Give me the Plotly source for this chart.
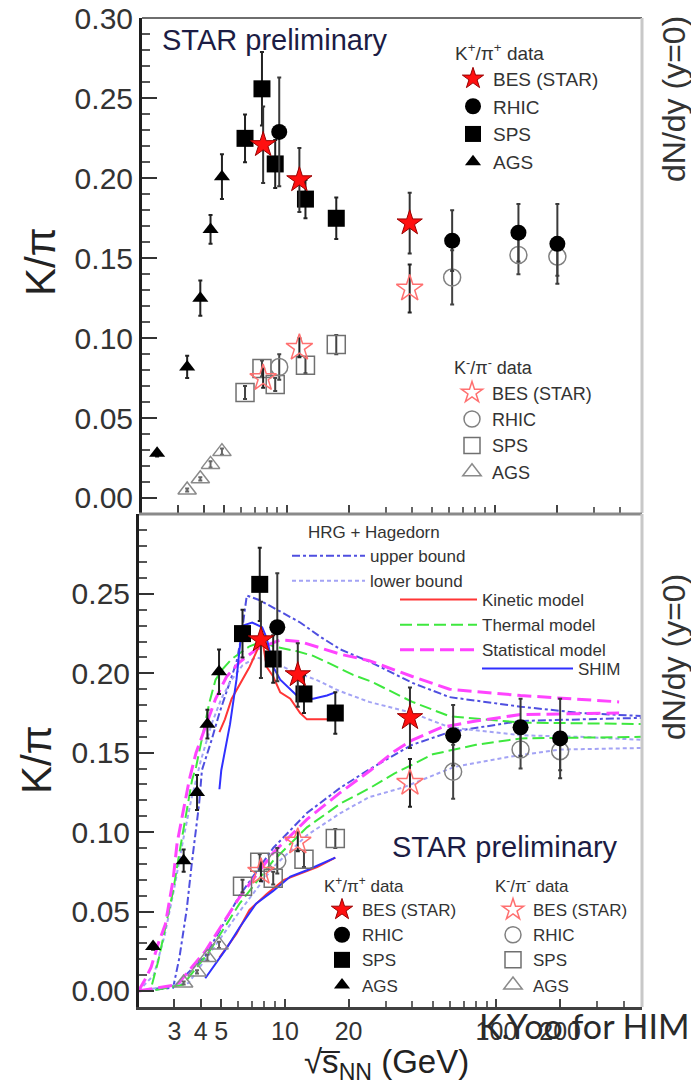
import plotly.graph_objects as go

# ---------------- measured K/pi ratios at mid-rapidity ----------------
bes_e = [7.7, 11.5, 39.0]
bes_kp = [0.221, 0.199, 0.172]
bes_kp_err = [0.024, 0.020, 0.019]
bes_km = [0.075, 0.094, 0.131]
bes_km_err = [0.006, 0.006, 0.015]

rhic_e = [9.2, 62.4, 130.0, 200.0]
rhic_kp = [0.229, 0.161, 0.166, 0.159]
rhic_kp_err = [0.034, 0.019, 0.018, 0.025]
rhic_km = [0.082, 0.138, 0.152, 0.151]
rhic_km_err = [0.008, 0.017, 0.012, 0.012]

sps_e = [6.3, 7.6, 8.8, 12.3, 17.3]
sps_kp = [0.225, 0.256, 0.209, 0.187, 0.175]
sps_kp_err = [0.015, 0.023, 0.015, 0.012, 0.013]
sps_km = [0.066, 0.081, 0.071, 0.083, 0.096]
sps_km_err = [0.004, 0.005, 0.004, 0.005, 0.006]

ags_e = [2.38, 3.32, 3.84, 4.3, 4.88]
ags_kp = [0.028, 0.082, 0.125, 0.168, 0.201]
ags_kp_err = [0.002, 0.007, 0.011, 0.009, 0.014]
ags_km_e = [3.32, 3.84, 4.3, 4.88]
ags_km = [0.005, 0.012, 0.021, 0.029]
ags_km_err = [0.001, 0.001, 0.002, 0.002]

# ---------------- model curves ----------------
kin_kp_e = [4.9, 5.2, 5.6, 6.3, 6.8, 7.3, 7.8, 8.2, 8.8, 9.5, 10.6, 11.8, 12.7, 17.3]
kin_kp = [0.163, 0.171, 0.184, 0.196, 0.204, 0.213, 0.222, 0.204, 0.198, 0.188, 0.184, 0.175, 0.171, 0.171]
kin_km_e = [4.9, 5.9, 6.8, 8.2, 9.9, 11.8, 14.2, 17.3]
kin_km = [0.021, 0.036, 0.051, 0.061, 0.070, 0.074, 0.078, 0.084]

shm_kp_e = [4.9, 5.0, 5.5, 5.9, 6.1, 6.3, 7.0, 7.8, 8.2, 8.8, 9.5, 10.2, 11.8, 13.6, 15.8, 17.3]
shm_kp = [0.127, 0.139, 0.168, 0.196, 0.215, 0.230, 0.232, 0.229, 0.222, 0.204, 0.196, 0.192, 0.184, 0.184, 0.186, 0.188]
shm_km_e = [4.2, 5.3, 6.1, 7.3, 8.8, 10.6, 12.7, 17.3]
shm_km = [0.008, 0.027, 0.040, 0.055, 0.063, 0.072, 0.076, 0.084]

stat_kp_e = [2.03, 2.2, 2.33, 2.52, 2.72, 2.96, 3.09, 3.3, 3.53, 3.8, 4.2, 4.7, 5.3, 6.1, 7.3, 9.5,
             11.8, 14.7, 18.3, 25.0, 40.0, 60.0, 130.0, 380.0]
stat_kp = [0.0, 0.008, 0.015, 0.030, 0.042, 0.070, 0.093, 0.112, 0.133, 0.150, 0.166, 0.184, 0.198,
           0.207, 0.215, 0.221, 0.220, 0.216, 0.212, 0.208, 0.198, 0.190, 0.186, 0.182]
stat_km_e = [2.03, 3.1, 4.2, 6.1, 8.8, 12.7, 18.3, 25.4, 33.0, 40.0, 55.0, 80.0, 130.0, 380.0]
stat_km = [0.0, 0.004, 0.025, 0.059, 0.087, 0.108, 0.125, 0.139, 0.151, 0.158, 0.166, 0.170, 0.174, 0.175]

therm_kp_e = [2.03, 2.2, 2.33, 2.52, 2.72, 2.96, 3.17, 3.43, 3.64, 3.8, 4.05, 4.4, 4.7, 5.1, 5.6, 6.8,
              7.8, 8.8, 11.3, 13.6, 15.8, 21.0, 25.4, 40.0, 60.0, 130.0, 500.0]
therm_kp = [0.0, 0.0, 0.002, 0.019, 0.040, 0.063, 0.087, 0.112, 0.133, 0.141, 0.158, 0.182, 0.196,
            0.203, 0.209, 0.217, 0.220, 0.217, 0.214, 0.211, 0.207, 0.199, 0.195, 0.182, 0.173, 0.169, 0.168]
therm_km_e = [2.03, 2.3, 3.3, 4.4, 6.1, 8.8, 12.7, 18.3, 25.4, 33.0, 50.0, 80.0, 130.0, 500.0]
therm_km = [0.0, 0.0, 0.004, 0.025, 0.055, 0.082, 0.103, 0.118, 0.128, 0.137, 0.149, 0.155, 0.159, 0.160]

hrgu_kp_e = [2.03, 2.96, 3.17, 3.43, 3.64, 3.93, 4.05, 4.5, 4.9, 5.4, 5.9, 6.2, 6.6, 7.6, 9.5, 11.8,
             14.7, 18.3, 25.4, 40.0, 60.0, 130.0, 250.0, 500.0]
hrgu_kp = [0.0, 0.002, 0.021, 0.051, 0.082, 0.118, 0.139, 0.158, 0.175, 0.192, 0.207, 0.222, 0.249,
           0.246, 0.239, 0.232, 0.223, 0.215, 0.207, 0.194, 0.185, 0.179, 0.175, 0.173]
hrgu_km_e = [2.03, 3.0, 4.2, 6.1, 8.8, 12.7, 18.3, 25.4, 40.0, 60.0, 130.0, 500.0]
hrgu_km = [0.0, 0.003, 0.022, 0.060, 0.090, 0.112, 0.128, 0.140, 0.155, 0.163, 0.170, 0.172]

hrgl_kp_e = [2.03, 2.4, 2.7, 3.0, 3.3, 3.6, 4.0, 4.5, 5.0, 5.6, 6.3, 7.3, 8.5, 11.0, 14.0, 18.0,
             25.0, 40.0, 60.0, 130.0, 250.0, 500.0]
hrgl_kp = [0.0, 0.010, 0.035, 0.065, 0.095, 0.120, 0.145, 0.168, 0.184, 0.196, 0.205, 0.210, 0.208,
           0.201, 0.196, 0.189, 0.182, 0.175, 0.166, 0.161, 0.160, 0.158]
hrgl_km_e = [2.03, 3.5, 6.1, 8.8, 12.7, 18.3, 25.0, 36.0, 63.0, 110.0, 200.0, 500.0]
hrgl_km = [0.0, 0.005, 0.050, 0.078, 0.098, 0.112, 0.122, 0.128, 0.141, 0.147, 0.152, 0.153]

# ---------------- axis ticks ----------------
x_major = [3, 4, 5, 10, 20, 100, 200]
x_major_text = ["3", "4", "5", "10", "20", "100", "200"]
x_minor = [6, 7, 8, 9, 30, 40, 50, 60, 70, 80, 90, 300, 400]
y_top_ticks = [0.0, 0.05, 0.10, 0.15, 0.20, 0.25, 0.30]
y_bot_ticks = [0.0, 0.05, 0.10, 0.15, 0.20, 0.25]

W, H = 691, 1087
FONT = "Liberation Sans, Arial, sans-serif"

fig = go.Figure()

# model curves (lower panel)
curve_styles = [
    (hrgu_kp_e, hrgu_kp, hrgu_km_e, hrgu_km, "upper bound", "legend3", dict(color="#4f4fe0", width=2, dash="8px,3px,3px,3px")),
    (hrgl_kp_e, hrgl_kp, hrgl_km_e, hrgl_km, "lower bound", "legend3", dict(color="#a3a3f5", width=2, dash="4px,3px")),
    (therm_kp_e, therm_kp, therm_km_e, therm_km, "Thermal model", "legend4", dict(color="#3ee83e", width=2, dash="12px,5px")),
    (stat_kp_e, stat_kp, stat_km_e, stat_km, "Statistical model", "legend4", dict(color="#ff44ff", width=3, dash="14px,6px")),
    (kin_kp_e, kin_kp, kin_km_e, kin_km, "Kinetic model", "legend4", dict(color="#ff3535", width=2)),
    (shm_kp_e, shm_kp, shm_km_e, shm_km, "SHIM", "legend5", dict(color="#3030ff", width=2)),
]
ranks = {"upper bound": 1, "lower bound": 2, "Kinetic model": 1, "Thermal model": 2,
         "Statistical model": 3, "SHIM": 1}
for xe, yp, xm, ym, name, leg, line in curve_styles:
    fig.add_trace(go.Scatter(x=xe, y=yp, mode="lines", line=line, name=name, legend=leg,
                             legendrank=ranks[name], xaxis="x2", yaxis="y2"))
    fig.add_trace(go.Scatter(x=xm, y=ym, mode="lines", line=line, name=name, showlegend=False,
                             xaxis="x2", yaxis="y2"))


def err(arr, color="#222"):
    return dict(type="data", array=arr, color=color, thickness=2, width=2)


def add_data(xa, ya, leg_p, leg_m):
    # negative kaons (open symbols)
    fig.add_trace(go.Scatter(x=ags_km_e, y=ags_km, error_y=err(ags_km_err, "#666"), mode="markers",
                             marker=dict(symbol="triangle-up-open", size=16, color="#8a8a8a", line=dict(width=1.5)),
                             name="AGS", legend=leg_m, legendrank=4, xaxis=xa, yaxis=ya))
    fig.add_trace(go.Scatter(x=sps_e, y=sps_km, error_y=err(sps_km_err, "#444"), mode="markers",
                             marker=dict(symbol="square-open", size=18, color="#707070", line=dict(width=1.5)),
                             name="SPS", legend=leg_m, legendrank=3, xaxis=xa, yaxis=ya))
    fig.add_trace(go.Scatter(x=rhic_e, y=rhic_km, error_y=err(rhic_km_err, "#444"), mode="markers",
                             marker=dict(symbol="circle-open", size=17, color="#808080", line=dict(width=1.5)),
                             name="RHIC", legend=leg_m, legendrank=2, xaxis=xa, yaxis=ya))
    fig.add_trace(go.Scatter(x=bes_e, y=bes_km, error_y=err(bes_km_err), mode="markers",
                             marker=dict(symbol="star-open", size=20, color="#ff7070", line=dict(width=1.5)),
                             name="BES (STAR)", legend=leg_m, legendrank=1, xaxis=xa, yaxis=ya))
    # positive kaons (filled symbols)
    fig.add_trace(go.Scatter(x=ags_e, y=ags_kp, error_y=err(ags_kp_err), mode="markers",
                             marker=dict(symbol="triangle-up", size=14, color="black"),
                             name="AGS", legend=leg_p, legendrank=4, xaxis=xa, yaxis=ya))
    fig.add_trace(go.Scatter(x=sps_e, y=sps_kp, error_y=err(sps_kp_err), mode="markers",
                             marker=dict(symbol="square", size=17, color="black"),
                             name="SPS", legend=leg_p, legendrank=3, xaxis=xa, yaxis=ya))
    fig.add_trace(go.Scatter(x=rhic_e, y=rhic_kp, error_y=err(rhic_kp_err, "#3a3a3a"), mode="markers",
                             marker=dict(symbol="circle", size=16, color="black"),
                             name="RHIC", legend=leg_p, legendrank=2, xaxis=xa, yaxis=ya))
    fig.add_trace(go.Scatter(x=bes_e, y=bes_kp, error_y=err(bes_kp_err, "#333"), mode="markers",
                             marker=dict(symbol="star", size=19, color="#ff1010", line=dict(color="#990000", width=1)),
                             name="BES (STAR)", legend=leg_p, legendrank=1, xaxis=xa, yaxis=ya))


add_data("x", "y", "legend", "legend2")
add_data("x2", "y2", "legend6", "legend7")

x_common = dict(type="log", showgrid=False, zeroline=False, ticks="inside", tickcolor="#444",
                tickwidth=2, ticklen=8, tickmode="array", tickvals=x_major, ticktext=x_major_text,
                minor=dict(ticks="inside", tickmode="array", tickvals=x_minor, ticklen=6,
                           tickcolor="#666", tickwidth=2, showgrid=False))
y_common = dict(showgrid=False, zeroline=False, ticks="inside", tickcolor="#333", tickwidth=2,
                ticklen=15, tickmode="array", tickformat=".2f",
                tickfont=dict(size=30, color="#333", family=FONT),
                minor=dict(ticks="inside", dtick=0.01, ticklen=8, tickcolor="#555", tickwidth=2,
                           showgrid=False),
                showline=True, linecolor="#1e1e1e", linewidth=3)

fig.update_layout(
    width=W, height=H, autosize=False,
    margin=dict(l=0, r=0, t=0, b=0, autoexpand=False),
    paper_bgcolor="white", plot_bgcolor="white",
    font=dict(family=FONT, color="#333"),
    xaxis=dict(**x_common, domain=[142 / W, 642 / W], range=[0.304, 2.708], anchor="y",
               showticklabels=False, showline=True, linecolor="#9a9a9a", linewidth=2),
    yaxis=dict(**y_common, domain=[1 - 513 / H, 1 - 18 / H], range=[-0.0094, 0.3003],
               tickvals=y_top_ticks, anchor="x"),
    xaxis2=dict(**x_common, domain=[139 / W, 642 / W], range=[0.310, 2.688], anchor="y2",
                showticklabels=True, tickfont=dict(size=25, color="#333", family=FONT),
                showline=True, linecolor="#404040", linewidth=3),
    yaxis2=dict(**y_common, domain=[1 - 1007 / H, 1 - 514 / H], range=[-0.0101, 0.3003],
                tickvals=y_bot_ticks, anchor="x2"),
    shapes=[
        dict(type="line", xref="x domain", yref="y domain", x0=0, x1=1, y0=1, y1=1,
             line=dict(color="#6e6e6e", width=2)),
        dict(type="line", xref="x domain", yref="y domain", x0=1, x1=1, y0=0, y1=1,
             line=dict(color="#c8c8c8", width=3)),
        dict(type="line", xref="x2 domain", yref="y2 domain", x0=0, x1=1, y0=1, y1=1,
             line=dict(color="#8a8a8a", width=3)),
        dict(type="line", xref="x2 domain", yref="y2 domain", x0=1, x1=1, y0=0, y1=1,
             line=dict(color="#c8c8c8", width=3)),
    ],
)

leg_base = dict(bgcolor="rgba(0,0,0,0)", borderwidth=0, xanchor="left", yanchor="top",
                traceorder="normal", tracegroupgap=0)
kp_title = "K<sup>+</sup>/π<sup>+</sup> data"
km_title = "K<sup>-</sup>/π<sup>-</sup> data"
fig.update_layout(
    legend=dict(**leg_base, x=453 / W, y=1 - 35 / H, font=dict(size=19, color="#333"),
                title=dict(text=kp_title, font=dict(size=19, color="#333"))),
    legend2=dict(**leg_base, x=452 / W, y=1 - 351 / H, font=dict(size=18, color="#333"),
                 title=dict(text=km_title, font=dict(size=18, color="#333"))),
    legend3=dict(**leg_base, x=287 / W, y=1 - 516 / H, itemwidth=73, font=dict(size=17, color="#333"),
                 title=dict(text="\u00a0\u00a0\u00a0\u00a0HRG + Hagedorn", font=dict(size=17, color="#333"))),
    legend4=dict(**leg_base, x=395 / W, y=1 - 582 / H, itemwidth=77, font=dict(size=17, color="#333")),
    legend5=dict(**leg_base, x=477 / W, y=1 - 651 / H, itemwidth=91, font=dict(size=17, color="#333")),
    legend6=dict(**leg_base, x=322 / W, y=1 - 870 / H, font=dict(size=17, color="#333"),
                 title=dict(text=kp_title, font=dict(size=17, color="#333"))),
    legend7=dict(**leg_base, x=493 / W, y=1 - 870 / H, font=dict(size=17, color="#333"),
                 title=dict(text=km_title, font=dict(size=17, color="#333"))),
)

star_color = "#1c1c44"
ann = [
    dict(text="STAR preliminary", x=160 / W, y=1 - 40 / H, xanchor="left",
         font=dict(size=29, color=star_color)),
    dict(text="STAR preliminary", x=390 / W, y=1 - 847 / H, xanchor="left",
         font=dict(size=29, color=star_color)),
    dict(text="K/π", x=40 / W, y=1 - 262 / H, textangle=-90, font=dict(size=42, color="#222")),
    dict(text="K/π", x=36 / W, y=1 - 760 / H, textangle=-90, font=dict(size=42, color="#222")),
    dict(text="dN/dy (y=0)", x=674 / W, y=1 - 99 / H, textangle=-90, font=dict(size=32, color="#333")),
    dict(text="dN/dy (y=0)", x=674 / W, y=1 - 657 / H, textangle=-90, font=dict(size=32, color="#333")),
    dict(text="√s\u0305<sub>NN</sub> (GeV)", x=386 / W, y=0, yanchor="bottom",
         font=dict(size=33, color="#222")),
    dict(text="K.Yoo for HIM", x=477 / W, y=1 - 1025 / H, xanchor="left",
         font=dict(size=34, color="#2a2a2a", family="Lato, sans-serif")),
]
for a in ann:
    a.setdefault("xanchor", "center")
    a.setdefault("yanchor", "middle")
    a.update(xref="paper", yref="paper", showarrow=False)
fig.update_layout(annotations=ann)

fig.write_html("out.html")
